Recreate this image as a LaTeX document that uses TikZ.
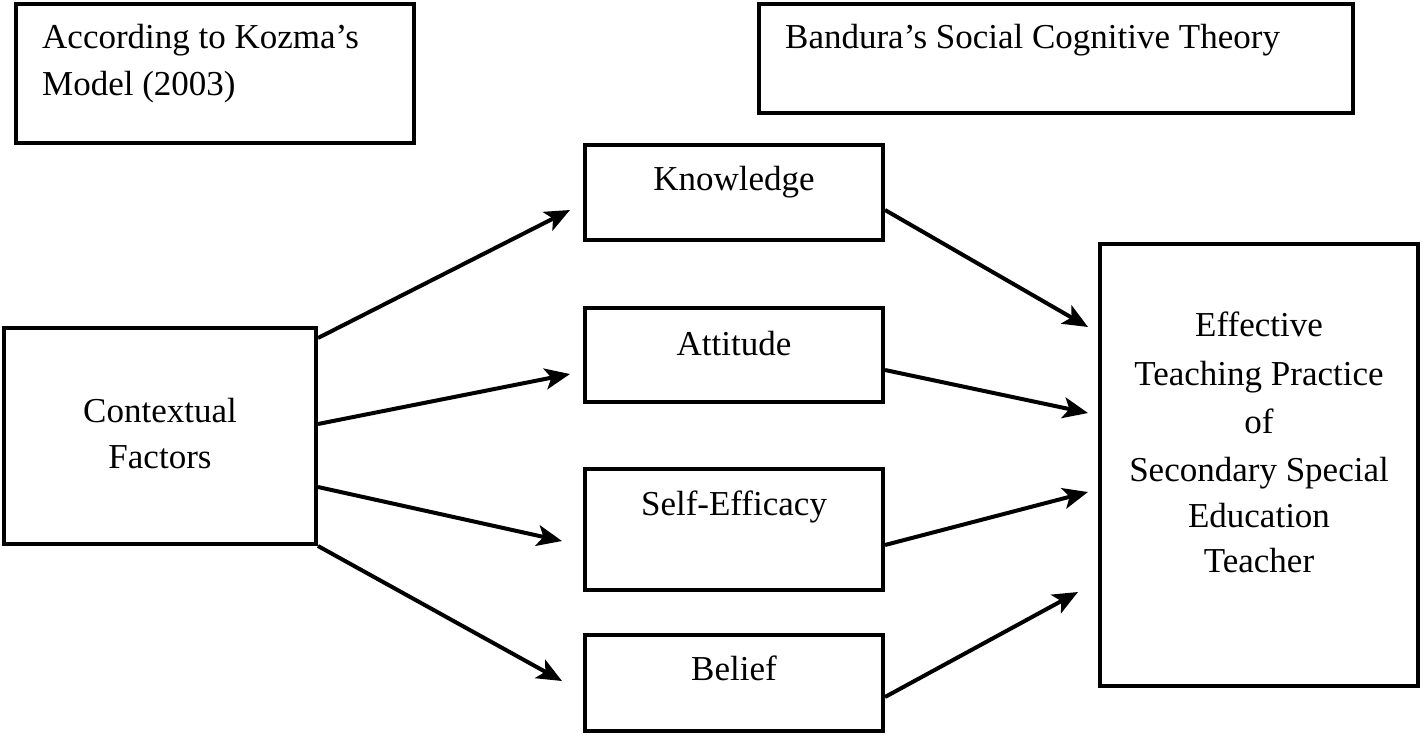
\documentclass[tikz,border=0pt]{standalone}
\usepackage{fontspec}
\setmainfont{Liberation Serif}
\usetikzlibrary{arrows.meta}
\begin{document}
\begin{tikzpicture}[x=1pt,y=-1pt,
  box/.style={draw=black,line width=4pt,rectangle,inner sep=0pt,fill=white},
  txt/.style={inner sep=0pt,font=\fontsize{35}{47}\selectfont},
  arr/.style={draw=black,line width=4pt,-{Stealth[length=25pt,width=21pt,inset=6pt]}}]
\useasboundingbox (0,0) rectangle (1425,737);
\fill[white] (0,0) rectangle (1425,737);
% boxes
\node[box,minimum width=398pt,minimum height=139pt] (kozma) at (215,73.5) {};
\node[box,minimum width=594pt,minimum height=109pt] (bandura) at (1056,58.5) {};
\node[box,minimum width=298pt,minimum height=95pt] (know) at (734,192.5) {};
\node[box,minimum width=298pt,minimum height=94pt] (att) at (734,355) {};
\node[box,minimum width=298pt,minimum height=121pt] (self) at (734,529.5) {};
\node[box,minimum width=298pt,minimum height=96pt] (bel) at (734,683) {};
\node[box,minimum width=312pt,minimum height=216pt] (ctx) at (160,436) {};
\node[box,minimum width=318pt,minimum height=442pt] (eff) at (1259,465) {};
% texts
\node[txt,anchor=base west] (k1) at (42,48) {According to Kozma’s};
\node[txt,anchor=base west] (k2) at (42,95) {Model (2003)};
\node[txt,anchor=base west] (b1) at (785,48) {Bandura’s Social Cognitive Theory};
\node[txt,anchor=base] (t1) at (734,190) {Knowledge};
\node[txt,anchor=base] (t2) at (734,355) {Attitude};
\node[txt,anchor=base] (t3) at (734,515) {Self-Efficacy};
\node[txt,anchor=base] (t4) at (734,680) {Belief};
\node[txt,anchor=base] (c1) at (160,422) {Contextual};
\node[txt,anchor=base] (c2) at (160,468) {Factors};
\node[txt,anchor=base] (e1) at (1259,336) {Effective};
\node[txt,anchor=base] (e2) at (1259,385) {Teaching Practice};
\node[txt,anchor=base] (e3) at (1259,433) {of};
\node[txt,anchor=base] (e4) at (1259,481) {Secondary Special};
\node[txt,anchor=base] (e5) at (1259,527) {Education};
\node[txt,anchor=base] (e6) at (1259,572) {Teacher};
% arrow ends
\coordinate (a1) at (570,210);
\coordinate (a2) at (570,374);
\coordinate (a3) at (562,541);
\coordinate (a4) at (562,681);
\coordinate (b1e) at (1088,327);
\coordinate (b2e) at (1088,413);
\coordinate (b3e) at (1088,492);
\coordinate (b4e) at (1078,592);
% connectors
\draw[arr] ([yshift=-12pt]ctx.north east) -- (a1);
\draw[arr] ([yshift=-98pt]ctx.north east) -- (a2);
\draw[arr] ([yshift=-161pt]ctx.north east) -- (a3);
\draw[arr] ([yshift=0pt]ctx.south east) -- (a4);
\draw[arr] ([yshift=-67pt]know.north east) -- (b1e);
\draw[arr] ([yshift=-64pt]att.north east) -- (b2e);
\draw[arr] ([yshift=-78pt]self.north east) -- (b3e);
\draw[arr] ([yshift=-64pt]bel.north east) -- (b4e);
\end{tikzpicture}
\end{document}
